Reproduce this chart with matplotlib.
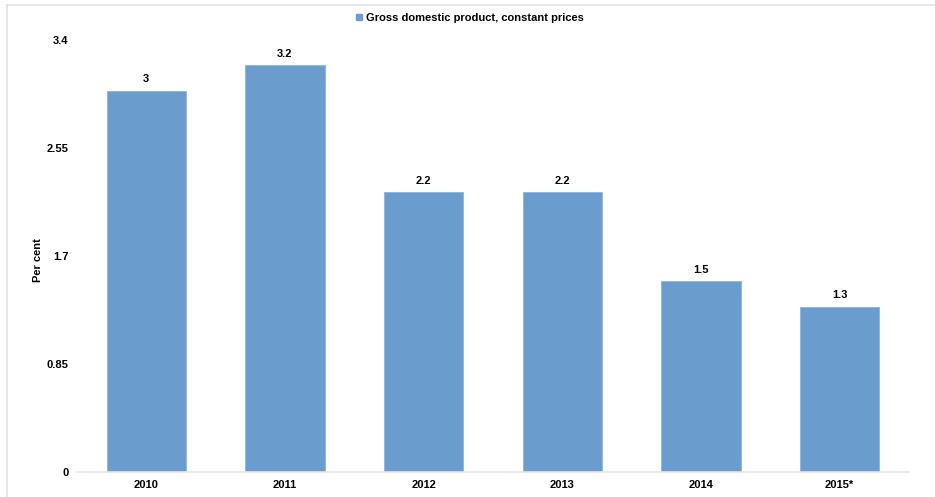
import numpy as np
import matplotlib.pyplot as plt
from matplotlib.lines import Line2D

years = ['2010', '2011', '2012', '2013', '2014', '2015*']
gdp = [3, 3.2, 2.2, 2.2, 1.5, 1.3]
yticks = [0, 0.85, 1.7, 2.55, 3.4]

plt.rcParams['font.family'] = ['Liberation Sans', 'DejaVu Sans']
plt.rcParams['font.weight'] = 'bold'

fig = plt.figure(figsize=(9.35, 4.97), dpi=100)
ax = fig.add_axes([77/935, 25/497, 832/935, 432/497])

bar_color = '#6a9ccd'
x = np.arange(len(years))
bars = ax.bar(x, gdp, width=0.57, color=bar_color, edgecolor='#8db3dd', linewidth=0.6)

for xi, v in zip(x, gdp):
    ax.text(xi, v + 0.05, f'{v:g}', ha='center', va='bottom', fontsize=8, fontweight='bold')

ax.set_xlim(-0.5, len(years) - 0.5)
ax.set_ylim(0, 3.4)
ax.set_xticks(x)
ax.set_xticklabels(years, fontsize=8, fontweight='bold')
ax.set_yticks(yticks)
ax.set_yticklabels([f'{t:g}' for t in yticks], fontsize=8, fontweight='bold')
ax.tick_params(axis='both', length=0)
ax.tick_params(axis='y', pad=6)
ax.tick_params(axis='x', pad=6)

for side in ['top', 'right', 'left']:
    ax.spines[side].set_visible(False)
ax.spines['bottom'].set_color('#e6e6e6')
ax.spines['bottom'].set_linewidth(1.2)

ax.set_ylabel('Per cent', fontsize=8, fontweight='bold')
ax.yaxis.set_label_coords(-0.041, 0.49)

handle = Line2D([], [], marker='s', linestyle='none', markersize=4,
                markerfacecolor=bar_color, markeredgecolor=bar_color)
fig.legend([handle], ['Gross domestic product, constant prices'],
           loc='center', bbox_to_anchor=(468/935, 1 - 18/497), frameon=False,
           fontsize=8, handletextpad=0.0, handlelength=1.2, borderaxespad=0)

# light frame along the top and left edges
fig.add_artist(Line2D([7/935, 1], [1 - 5/497, 1 - 5/497], color='#e3e3e3', linewidth=1.2,
                      transform=fig.transFigure))
fig.add_artist(Line2D([7/935, 7/935], [0, 1 - 5/497], color='#e3e3e3', linewidth=1.2,
                      transform=fig.transFigure))

fig.savefig('out.png', dpi=100)
